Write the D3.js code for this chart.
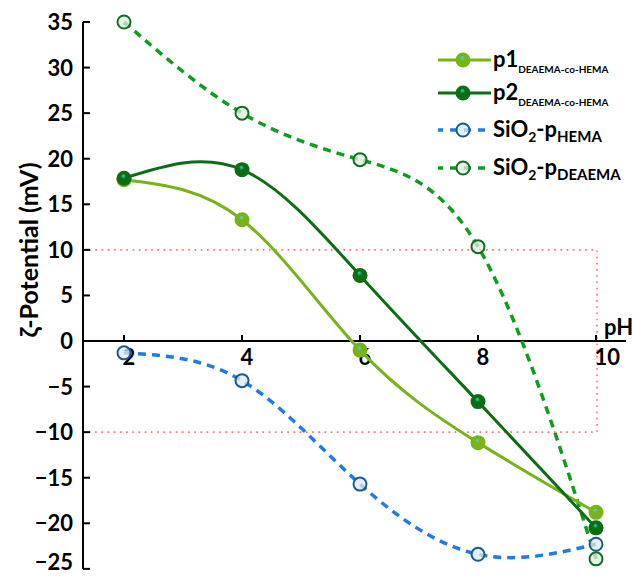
<!DOCTYPE html>
<html>
<head>
<meta charset="utf-8">
<script src="https://cdn.jsdelivr.net/npm/d3@7"></script>
<style>
  body { margin: 0; background: #fff; }
  text { font-family: Lato, "Open Sans", sans-serif; font-weight: bold; }
</style>
</head>
<body>
<svg id="chart"></svg>
<script>
const width = 634, height = 577;
const svg = d3.select("#chart").attr("width", width).attr("height", height);

// data
const pH = [2, 4, 6, 8, 10];
const p1 = [17.7, 13.3, -1.0, -11.15, -18.8];
const p2 = [17.85, 18.8, 7.2, -6.65, -20.5];
const sio2Hema = [-1.3, -4.35, -15.7, -23.4, -22.3];
const sio2Deaema = [35, 25, 19.9, 10.35, -23.9];
const yTicks = [35, 30, 25, 20, 15, 10, 5, 0, -5, -10, -15, -20, -25];
const xTicks = [2, 4, 6, 8, 10];

const x = d3.scaleLinear().domain([2, 10]).range([124, 596]);
const y = d3.scaleLinear().domain([-20, 35]).range([523.3, 22]);
const axisX0 = 83, axisX1 = 626;

// gradients for the shiny markers
const defs = svg.append("defs");
function ball(id, base, hi) {
    const g = defs.append("radialGradient").attr("id", id)
        .attr("cx", "0.5").attr("cy", "0.5").attr("r", "0.6")
        .attr("fx", "0.45").attr("fy", "0.32");
    g.append("stop").attr("offset", "0").attr("stop-color", hi);
    g.append("stop").attr("offset", "0.28").attr("stop-color", base);
    g.append("stop").attr("offset", "1").attr("stop-color", base);
}
ball("b1", "#79b31c", "#3ee0cf");
ball("b2", "#0c6e14", "#2fe0c8");

// red dotted box (-10..10)
svg.append("rect")
    .attr("x", axisX0).attr("y", y(10))
    .attr("width", 597 - axisX0).attr("height", y(-10) - y(10))
    .attr("fill", "none")
    .attr("stroke", "#ff6a6a")
    .attr("stroke-width", 1.6)
    .attr("stroke-dasharray", "1.6,4.6");

// axes
svg.append("line")
    .attr("x1", axisX0).attr("x2", axisX0)
    .attr("y1", y(35)).attr("y2", y(-25))
    .attr("stroke", "#000").attr("stroke-width", 2);
svg.append("line")
    .attr("x1", axisX0).attr("x2", axisX1)
    .attr("y1", y(0)).attr("y2", y(0))
    .attr("stroke", "#000").attr("stroke-width", 2);

svg.selectAll(".yt").data(yTicks).enter().append("line")
    .attr("x1", axisX0).attr("x2", axisX0 + 7)
    .attr("y1", d => y(d)).attr("y2", d => y(d))
    .attr("stroke", "#000").attr("stroke-width", 2);
svg.selectAll(".yl").data(yTicks).enter().append("text")
    .attr("x", 73).attr("y", d => Math.min(y(d) + 8, 570))
    .attr("text-anchor", "end")
    .attr("font-size", "22px")
    .text(d => d < 0 ? "\u2212" + Math.abs(d) : d);

svg.selectAll(".xt").data(xTicks).enter().append("line")
    .attr("x1", d => x(d)).attr("x2", d => x(d))
    .attr("y1", y(0) - 6).attr("y2", y(0))
    .attr("stroke", "#000").attr("stroke-width", 2);
svg.selectAll(".xl").data(xTicks).enter().append("text")
    .attr("x", d => x(d) - 1.5).attr("y", y(0) + 24)
    .attr("font-size", "22px")
    .text(d => d);

svg.append("text").attr("x", 604).attr("y", 335)
    .attr("font-size", "22px").text("pH");

svg.append("text")
    .attr("transform", "translate(38,250) rotate(-90)")
    .attr("text-anchor", "middle")
    .attr("font-size", "25px")
    .text("\u03b6-Potential (mV)");

// lines
const line = d3.line().x(d => x(d[0])).y(d => y(d[1])).curve(d3.curveNatural);
const series = [
    {vals: sio2Hema, color: "#1f7be6", dash: "8,6", w: 3.5},
    {vals: sio2Deaema, color: "#0c9e1c", dash: "8,6", w: 3.5},
    {vals: p1, color: "#79b31c", dash: null, w: 3},
    {vals: p2, color: "#0c6e14", dash: null, w: 3}
];
series.forEach(s => {
    svg.append("path")
        .datum(pH.map((p, i) => [p, s.vals[i]]))
        .attr("d", line)
        .attr("fill", "none")
        .attr("stroke", s.color)
        .attr("stroke-width", s.w)
        .attr("stroke-dasharray", s.dash);
});

// markers
function hollow(vals, stroke, fill) {
    svg.append("g").selectAll("circle")
        .data(pH.map((p, i) => [p, vals[i]]))
        .enter().append("circle")
        .attr("cx", d => x(d[0])).attr("cy", d => y(d[1]))
        .attr("r", 6.5)
        .attr("fill", fill).attr("fill-opacity", 0.75)
        .attr("stroke", stroke).attr("stroke-width", 2);
}
function solid(vals, grad) {
    svg.append("g").selectAll("circle")
        .data(pH.map((p, i) => [p, vals[i]]))
        .enter().append("circle")
        .attr("cx", d => x(d[0])).attr("cy", d => y(d[1]))
        .attr("r", 7.5)
        .attr("fill", "url(#" + grad + ")");
}
hollow(sio2Hema, "#1c5a8c", "#dbe9f6");
hollow(sio2Deaema, "#166b24", "#d9eedd");
solid(p1, "b1");
solid(p2, "b2");

// legend
const legRows = [
    {y: 60, color: "#79b31c", dash: null, type: "solid", grad: "b1", main: "p1", sub: "DEAEMA-co-HEMA"},
    {y: 93, color: "#0c6e14", dash: null, type: "solid", grad: "b2", main: "p2", sub: "DEAEMA-co-HEMA"},
    {y: 130, color: "#1f7be6", dash: "8,6", type: "hollow", stroke: "#1c5a8c", fill: "#dbe9f6", sub: "HEMA"},
    {y: 168, color: "#0c9e1c", dash: "8,6", type: "hollow", stroke: "#166b24", fill: "#d9eedd", sub: "DEAEMA"}
];
const leg = svg.append("g");
legRows.forEach(r => {
    leg.append("line")
        .attr("x1", 438).attr("x2", 491).attr("y1", r.y).attr("y2", r.y)
        .attr("stroke", r.color).attr("stroke-width", r.type === "solid" ? 3 : 3.5)
        .attr("stroke-dasharray", r.dash ? "7,7" : null)
        .attr("stroke-dashoffset", r.dash ? 2 : null);
    if (r.type === "solid") {
        leg.append("circle").attr("cx", 463).attr("cy", r.y).attr("r", 7.5)
            .attr("fill", "url(#" + r.grad + ")");
        const t = leg.append("text").attr("x", 493).attr("y", r.y + 7).attr("font-size", "22px");
        t.append("tspan").text(r.main);
        t.append("tspan").attr("font-size", "10px").attr("dy", 6).text(r.sub);
    } else {
        leg.append("circle").attr("cx", 463).attr("cy", r.y).attr("r", 6.5)
            .attr("fill", r.fill).attr("fill-opacity", 0.75)
            .attr("stroke", r.stroke).attr("stroke-width", 2);
        const t = leg.append("text").attr("x", 493).attr("y", r.y + 7).attr("font-size", "22px");
        t.append("tspan").text("SiO");
        t.append("tspan").attr("font-size", "14px").attr("dy", 5).text("2");
        t.append("tspan").attr("dy", -5).text("-p");
        t.append("tspan").attr("font-size", "15px").attr("dy", 5).text(r.sub);
    }
});
</script>
</body>
</html>
